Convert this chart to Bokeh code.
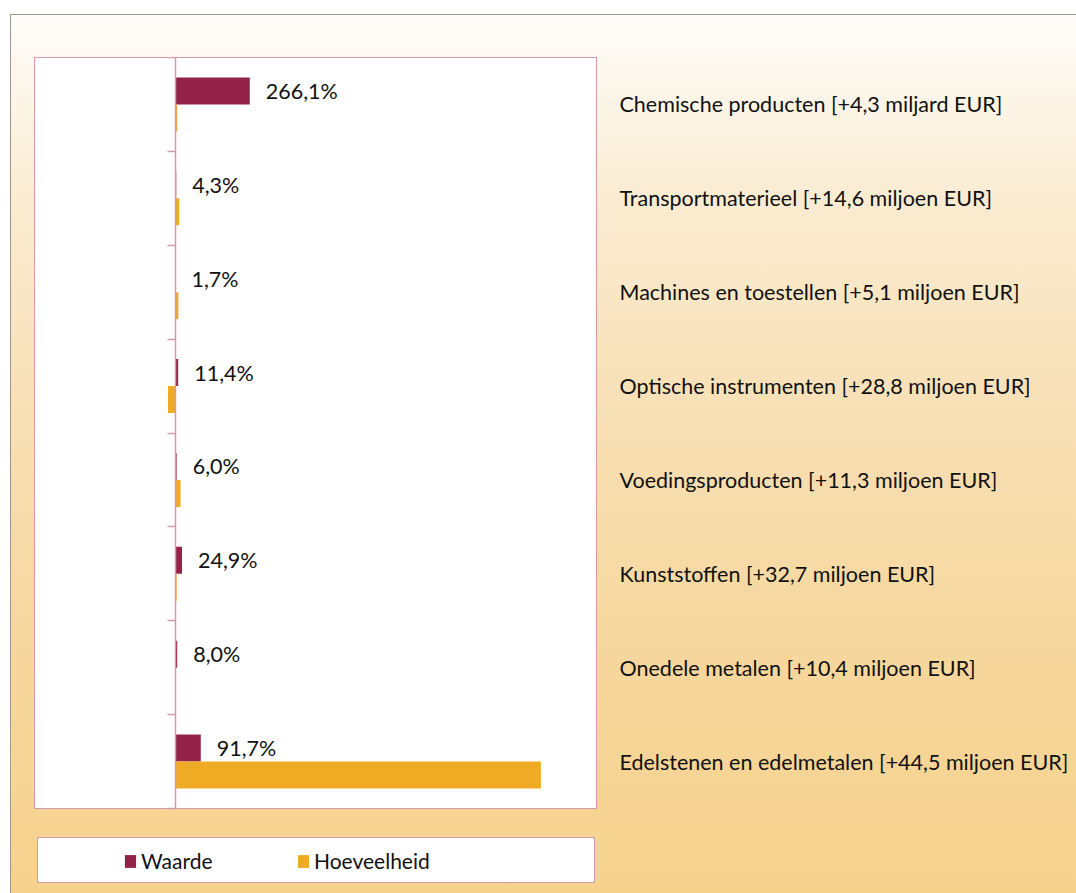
from bokeh.plotting import figure
from bokeh.models import Range1d, LinearAxis, FixedTicker, ColumnDataSource, Legend, LegendItem
from bokeh.transform import dodge
from bokeh.core.properties import value
from bokeh.embed import file_html
from bokeh.resources import INLINE

# ---- data ----
categories = ["Chemische producten", "Transportmaterieel", "Machines en toestellen",
              "Optische instrumenten", "Voedingsproducten", "Kunststoffen",
              "Onedele metalen", "Edelstenen en edelmetalen"]
increases = ["+4,3 miljard EUR", "+14,6 miljoen EUR", "+5,1 miljoen EUR", "+28,8 miljoen EUR",
             "+11,3 miljoen EUR", "+32,7 miljoen EUR", "+10,4 miljoen EUR", "+44,5 miljoen EUR"]
waarde = [266.1, 4.3, 1.7, 11.4, 6.0, 24.9, 8.0, 91.7]
hoeveelheid = [8, 15, 12, -25, 20, 6, 3, 1302]
series_names = ["Waarde", "Hoeveelheid"]
x_start, x_end = -500, 1500

FONT = "Lato"
C_WAARDE = "#932248"
C_HOEV = "#efab24"
PINK = "#d49aab"
W, H = 1076, 893

pos = list(range(len(categories)))
wlabels = [f"{v:.1f}".replace(".", ",") + "%" for v in waarde]
right_labels = {i: f"{c} [{inc}]" for i, (c, inc) in enumerate(zip(categories, increases))}

src = ColumnDataSource(dict(y=pos, waarde=waarde, hoev=hoeveelheid, wlab=wlabels))

# frame: x 34..596 ; y 57..884 (plot area 57..808, legend strip below)
band_px = 751 / len(categories)
extra = 76 / band_px
p = figure(width=W, height=H,
           x_range=Range1d(x_start, x_end),
           y_range=Range1d(len(categories) - 0.5 + extra, -0.5),
           x_axis_type=None, y_axis_type=None,
           output_backend="svg", toolbar_location=None,
           min_border_left=34, min_border_right=480, min_border_top=57, min_border_bottom=9,
           background_fill_color=None, border_fill_color=None,
           outline_line_color=None)
p.xgrid.grid_line_color = None
p.ygrid.grid_line_color = None

# chart area decoration: gradient panel with grey frame line, plot area box, legend box
p.styles = {
    "background-image": ", ".join([
        "linear-gradient(#ffffff,#ffffff)",          # legend box
        f"linear-gradient({PINK},{PINK})",           # legend box border
        "linear-gradient(#ffffff,#ffffff)",          # plot area
        f"linear-gradient({PINK},{PINK})",           # plot area border
        "linear-gradient(to bottom, #fefdfa 0%, #faebd0 22%, #f8e0b6 45%, #f6d79e 70%, #f6d28d 100%)",
        "linear-gradient(#9b958a,#9b958a)",
    ]),
    "background-position": "38px 838px, 37px 837px, 35px 58px, 34px 57px, 11px 15px, 10px 14px",
    "background-size": "556px 44px, 558px 46px, 561px 750px, 563px 752px, 1065px 878px, 1066px 879px",
    "background-repeat": "no-repeat",
}

bh = 0.287
r1 = p.hbar(y=dodge("y", -0.144), right="waarde", left=0, height=bh, source=src,
            fill_color=C_WAARDE, line_color=None)
r2 = p.hbar(y=dodge("y", 0.144), right="hoev", left=0, height=bh, source=src,
            fill_color=C_HOEV, line_color=None)

p.text(x="waarde", y=dodge("y", -0.144), text="wlab", source=src, x_offset=16,
       text_baseline="middle", text_align="left", text_color="#111111",
       text_font=value(FONT), text_font_size="21.5px")

# zero axis with category separators
ticks = [i - 0.5 for i in range(len(categories) + 1)]
zaxis = LinearAxis(fixed_location=0, ticker=FixedTicker(ticks=ticks),
                   bounds=(-0.5, len(categories) - 0.5),
                   major_label_overrides={t: "" for t in ticks},
                   major_label_text_font_size="0px", major_label_standoff=0,
                   axis_line_color=PINK, axis_line_width=1.5,
                   major_tick_line_color=PINK, major_tick_line_width=1.5,
                   major_tick_out=8, major_tick_in=0,
                   minor_tick_line_color=None)
p.add_layout(zaxis, "left")

# category labels on the right
raxis = LinearAxis(ticker=FixedTicker(ticks=pos), major_label_overrides=right_labels,
                   axis_line_color=None, major_tick_line_color=None, minor_tick_line_color=None,
                   major_tick_out=0, major_tick_in=0, major_label_standoff=23,
                   major_label_text_font=FONT, major_label_text_font_size="21.5px",
                   major_label_text_color="#111111", major_label_text_font_style="normal")
p.add_layout(raxis, "right")

legend = Legend(items=[LegendItem(label=series_names[0], renderers=[r1]),
                       LegendItem(label=series_names[1], renderers=[r2])],
                orientation="horizontal", location=(89, 11),
                padding=0, margin=0, spacing=0,
                glyph_width=14, glyph_height=16, label_standoff=4, label_width=155, label_height=16,
                background_fill_alpha=0, border_line_color=None,
                label_text_font=FONT, label_text_font_size="21px", label_text_color="#111111")
p.add_layout(legend, "center")

open("out.html", "w").write(file_html(p, INLINE))
